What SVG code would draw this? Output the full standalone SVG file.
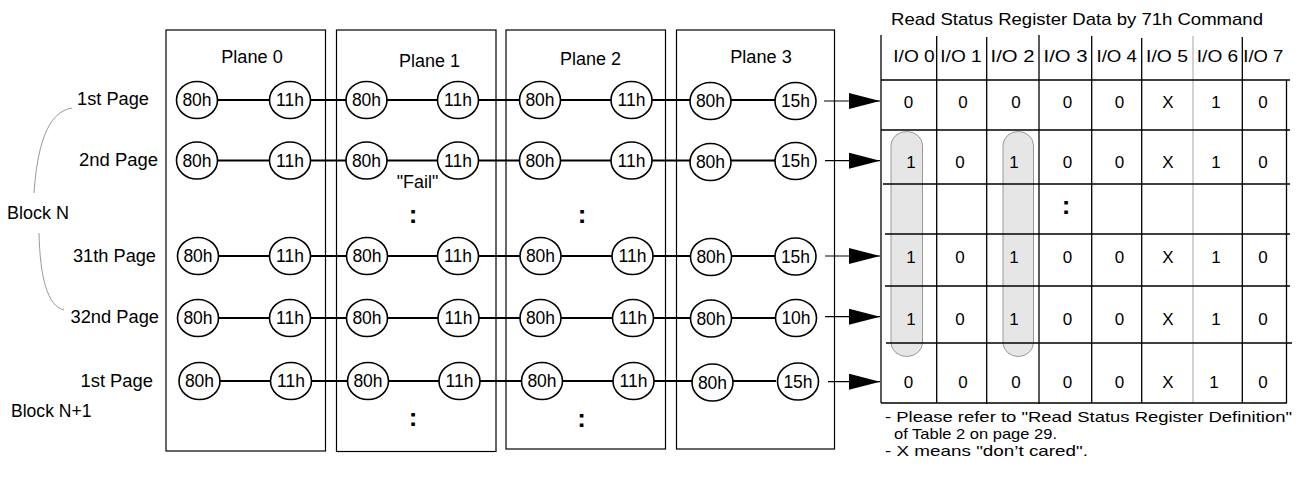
<svg xmlns="http://www.w3.org/2000/svg" width="1303" height="480" viewBox="0 0 1303 480">
<style>
.t{font-family:"Liberation Sans",Arial,Helvetica,sans-serif;font-size:17.5px;fill:#000}
.s{font-size:17px}
.n{font-size:15px}
.m{text-anchor:middle}
.e{text-anchor:end}
.colon{font-weight:bold;font-size:26px;text-anchor:middle}
.box{fill:none;stroke:#000;stroke-width:1.2}
.ov{fill:#fff;stroke:#000;stroke-width:1.6}
.wire{stroke:#000;stroke-width:2;fill:none}
.arr{stroke:#000;stroke-width:1.2;fill:none;marker-end:url(#ah)}
.grid{stroke:#000;stroke-width:1.3}
.gray{stroke:#bbb;stroke-width:1.3}
.pill{fill:#e6e6e6;stroke:#999;stroke-width:1}
.brace{fill:none;stroke:#999;stroke-width:1}
</style>
<defs>
<marker id="ah" markerUnits="userSpaceOnUse" markerWidth="31" markerHeight="16" refX="31" refY="8" orient="auto">
<path d="M0,0 L31,8 L0,16 Z" fill="#000"/>
</marker>
</defs>
<rect width="1303" height="480" fill="#fff"/>

<!-- left labels and brace -->
<g id="labels">
<path class="brace" d="M72,108 C46,112 37,150 34,193"/>
<path class="brace" d="M39,233 C40,276 47,306 64,310"/>
<text class="t e" x="149" y="105" textLength="72" lengthAdjust="spacingAndGlyphs">1st Page</text>
<text class="t e" x="158" y="166" textLength="79" lengthAdjust="spacingAndGlyphs">2nd Page</text>
<text class="t" x="7" y="219" textLength="62" lengthAdjust="spacingAndGlyphs">Block N</text>
<text class="t e" x="156" y="262" textLength="83" lengthAdjust="spacingAndGlyphs">31th Page</text>
<text class="t e" x="159" y="323" textLength="88.5" lengthAdjust="spacingAndGlyphs">32nd Page</text>
<text class="t e" x="153" y="387" textLength="72.5" lengthAdjust="spacingAndGlyphs">1st Page</text>
<text class="t" x="11" y="417" textLength="80.5" lengthAdjust="spacingAndGlyphs">Block N+1</text>
</g>

<!-- plane boxes -->
<g id="plane0-box"><rect class="box" x="166" y="30" width="159.5" height="421"/><text class="t m" x="252" y="63" textLength="61.5" lengthAdjust="spacingAndGlyphs">Plane 0</text></g>
<g id="plane1-box"><rect class="box" x="336.5" y="30" width="159.5" height="421.5"/><text class="t m" x="429.5" y="66.5" textLength="61" lengthAdjust="spacingAndGlyphs">Plane 1</text></g>
<g id="plane2-box"><rect class="box" x="506" y="30" width="159.5" height="419"/><text class="t m" x="590.5" y="65" textLength="61" lengthAdjust="spacingAndGlyphs">Plane 2</text></g>
<g id="plane3-box"><rect class="box" x="676.5" y="30" width="158" height="419"/><text class="t m" x="761" y="62.5" textLength="61.5" lengthAdjust="spacingAndGlyphs">Plane 3</text></g>

<!-- connectors -->
<g id="connectors">
<line class="wire" x1="217" y1="100" x2="776" y2="100"/>
<line class="wire" x1="217" y1="160.5" x2="776" y2="160.5"/>
<line class="wire" x1="217" y1="256" x2="776" y2="256"/>
<line class="wire" x1="217" y1="318" x2="776" y2="318"/>
<line class="wire" x1="217" y1="381" x2="776" y2="381"/>
<line class="arr" x1="824" y1="101" x2="880" y2="101"/>
<line class="arr" x1="825" y1="160.7" x2="880" y2="160.7"/>
<line class="arr" x1="825" y1="256" x2="880" y2="256"/>
<line class="arr" x1="825" y1="316.7" x2="880" y2="316.7"/>
<line class="arr" x1="828" y1="381.7" x2="880" y2="381.7"/>
</g>

<!-- plane 0 nodes -->
<g id="plane0">
<g id="p0-r1-80"><ellipse class="ov" cx="197" cy="100" rx="20.5" ry="18.5"/><text class="t m" x="197" y="106">80h</text></g>
<g id="p0-r1-11"><ellipse class="ov" cx="290" cy="100" rx="20.5" ry="18.5"/><text class="t m" x="290" y="106">11h</text></g>
<g id="p0-r2-80"><ellipse class="ov" cx="197" cy="160.5" rx="20.5" ry="18.5"/><text class="t m" x="197" y="166.5">80h</text></g>
<g id="p0-r2-11"><ellipse class="ov" cx="290" cy="160.5" rx="20.5" ry="18.5"/><text class="t m" x="290" y="166.5">11h</text></g>
<g id="p0-r3-80"><ellipse class="ov" cx="198" cy="256" rx="20.5" ry="18.5"/><text class="t m" x="198" y="262">80h</text></g>
<g id="p0-r3-11"><ellipse class="ov" cx="290" cy="256" rx="20.5" ry="18.5"/><text class="t m" x="290" y="262">11h</text></g>
<g id="p0-r4-80"><ellipse class="ov" cx="198" cy="318" rx="20.5" ry="18.5"/><text class="t m" x="198" y="324">80h</text></g>
<g id="p0-r4-11"><ellipse class="ov" cx="290" cy="318" rx="20.5" ry="18.5"/><text class="t m" x="290" y="324">11h</text></g>
<g id="p0-r5-80"><ellipse class="ov" cx="199.5" cy="381" rx="20.5" ry="18.5"/><text class="t m" x="199.5" y="387">80h</text></g>
<g id="p0-r5-11"><ellipse class="ov" cx="291" cy="381" rx="20.5" ry="18.5"/><text class="t m" x="291" y="387">11h</text></g>
</g>

<!-- plane 1 nodes -->
<g id="plane1">
<g id="p1-r1-80"><ellipse class="ov" cx="366.5" cy="100" rx="20.5" ry="18.5"/><text class="t m" x="366.5" y="106">80h</text></g>
<g id="p1-r1-11"><ellipse class="ov" cx="458" cy="100" rx="20.5" ry="18.5"/><text class="t m" x="458" y="106">11h</text></g>
<g id="p1-r2-80"><ellipse class="ov" cx="366.5" cy="160.5" rx="20.5" ry="18.5"/><text class="t m" x="366.5" y="166.5">80h</text></g>
<g id="p1-r2-11"><ellipse class="ov" cx="458" cy="160.5" rx="20.5" ry="18.5"/><text class="t m" x="458" y="166.5">11h</text></g>
<text class="t m" x="417.5" y="188" textLength="41.5" lengthAdjust="spacingAndGlyphs">"Fail"</text>
<text class="t colon" x="413" y="223">:</text>
<g id="p1-r3-80"><ellipse class="ov" cx="367" cy="256" rx="20.5" ry="18.5"/><text class="t m" x="367" y="262">80h</text></g>
<g id="p1-r3-11"><ellipse class="ov" cx="458" cy="256" rx="20.5" ry="18.5"/><text class="t m" x="458" y="262">11h</text></g>
<g id="p1-r4-80"><ellipse class="ov" cx="367" cy="318" rx="20.5" ry="18.5"/><text class="t m" x="367" y="324">80h</text></g>
<g id="p1-r4-11"><ellipse class="ov" cx="458.5" cy="318" rx="20.5" ry="18.5"/><text class="t m" x="458.5" y="324">11h</text></g>
<g id="p1-r5-80"><ellipse class="ov" cx="368" cy="381" rx="20.5" ry="18.5"/><text class="t m" x="368" y="387">80h</text></g>
<g id="p1-r5-11"><ellipse class="ov" cx="459.5" cy="381" rx="20.5" ry="18.5"/><text class="t m" x="459.5" y="387">11h</text></g>
<text class="t colon" x="413" y="426">:</text>
</g>

<!-- plane 2 nodes -->
<g id="plane2">
<g id="p2-r1-80"><ellipse class="ov" cx="540" cy="100" rx="20.5" ry="18.5"/><text class="t m" x="540" y="106">80h</text></g>
<g id="p2-r1-11"><ellipse class="ov" cx="631.5" cy="100" rx="20.5" ry="18.5"/><text class="t m" x="631.5" y="106">11h</text></g>
<g id="p2-r2-80"><ellipse class="ov" cx="540" cy="160.5" rx="20.5" ry="18.5"/><text class="t m" x="540" y="166.5">80h</text></g>
<g id="p2-r2-11"><ellipse class="ov" cx="631.5" cy="160.5" rx="20.5" ry="18.5"/><text class="t m" x="631.5" y="166.5">11h</text></g>
<text class="t colon" x="582" y="223">:</text>
<g id="p2-r3-80"><ellipse class="ov" cx="540.5" cy="256" rx="20.5" ry="18.5"/><text class="t m" x="540.5" y="262">80h</text></g>
<g id="p2-r3-11"><ellipse class="ov" cx="632.5" cy="256" rx="20.5" ry="18.5"/><text class="t m" x="632.5" y="262">11h</text></g>
<g id="p2-r4-80"><ellipse class="ov" cx="540.5" cy="318" rx="20.5" ry="18.5"/><text class="t m" x="540.5" y="324">80h</text></g>
<g id="p2-r4-11"><ellipse class="ov" cx="633" cy="318" rx="20.5" ry="18.5"/><text class="t m" x="633" y="324">11h</text></g>
<g id="p2-r5-80"><ellipse class="ov" cx="542" cy="381" rx="20.5" ry="18.5"/><text class="t m" x="542" y="387">80h</text></g>
<g id="p2-r5-11"><ellipse class="ov" cx="633.5" cy="381" rx="20.5" ry="18.5"/><text class="t m" x="633.5" y="387">11h</text></g>
<text class="t colon" x="581.5" y="427">:</text>
</g>

<!-- plane 3 nodes -->
<g id="plane3">
<g id="p3-r1-80"><ellipse class="ov" cx="710.5" cy="101" rx="20.5" ry="18.5"/><text class="t m" x="710.5" y="107">80h</text></g>
<g id="p3-r1-15"><ellipse class="ov" cx="795.5" cy="101" rx="20.5" ry="18.5"/><text class="t m" x="795.5" y="107">15h</text></g>
<g id="p3-r2-80"><ellipse class="ov" cx="710.5" cy="162" rx="20.5" ry="18.5"/><text class="t m" x="710.5" y="168">80h</text></g>
<g id="p3-r2-15"><ellipse class="ov" cx="795.5" cy="161" rx="20.5" ry="18.5"/><text class="t m" x="795.5" y="167">15h</text></g>
<g id="p3-r3-80"><ellipse class="ov" cx="711" cy="257" rx="20.5" ry="18.5"/><text class="t m" x="711" y="263">80h</text></g>
<g id="p3-r3-15"><ellipse class="ov" cx="795.5" cy="256.5" rx="20.5" ry="18.5"/><text class="t m" x="795.5" y="262.5">15h</text></g>
<g id="p3-r4-80"><ellipse class="ov" cx="711" cy="318.5" rx="20.5" ry="18.5"/><text class="t m" x="711" y="324.5">80h</text></g>
<g id="p3-r4-10"><ellipse class="ov" cx="796" cy="318" rx="20.5" ry="18.5"/><text class="t m" x="796" y="324">10h</text></g>
<g id="p3-r5-80"><ellipse class="ov" cx="712.5" cy="382.5" rx="20.5" ry="18.5"/><text class="t m" x="712.5" y="388.5">80h</text></g>
<g id="p3-r5-15"><ellipse class="ov" cx="798" cy="381.5" rx="20.5" ry="18.5"/><text class="t m" x="798" y="387.5">15h</text></g>
</g>

<!-- status register table -->
<g id="status-table">
<text class="t s" x="891" y="25" textLength="372" lengthAdjust="spacingAndGlyphs">Read Status Register Data by 71h Command</text>
<rect class="pill" x="891" y="131.5" width="31.5" height="225" rx="15.7" ry="14"/>
<rect class="pill" x="1003" y="131.5" width="30.5" height="225" rx="15.2" ry="14"/>
<line class="grid" x1="881" y1="35" x2="881" y2="403"/>
<line class="grid" x1="936.7" y1="36" x2="936.7" y2="403"/>
<line class="grid" x1="986.7" y1="37" x2="986.7" y2="404"/>
<line class="grid" x1="1039" y1="35" x2="1039" y2="404"/>
<line class="grid" x1="1091.7" y1="36" x2="1091.7" y2="403"/>
<line class="grid" x1="1141.7" y1="38" x2="1141.7" y2="403"/>
<line class="gray" x1="1193" y1="36" x2="1193" y2="403"/>
<line class="grid" x1="1242.3" y1="37" x2="1242.3" y2="403"/>
<line class="grid" x1="1286.5" y1="80" x2="1286.5" y2="403"/>
<line class="grid" x1="881" y1="80" x2="1290" y2="80"/>
<line class="grid" x1="881" y1="130" x2="1290" y2="130"/>
<line class="grid" x1="883" y1="184" x2="1290" y2="184"/>
<line class="grid" x1="885" y1="234" x2="1290" y2="234"/>
<line class="grid" x1="885" y1="286" x2="1290" y2="286"/>
<line class="grid" x1="886" y1="343" x2="1292" y2="343"/>
<line class="grid" x1="881" y1="403" x2="1287" y2="403"/>
<g class="t s m">
<text x="914" y="61.5" textLength="41.5" lengthAdjust="spacingAndGlyphs">I/O 0</text>
<text x="961" y="61.5" textLength="41.5" lengthAdjust="spacingAndGlyphs">I/O 1</text>
<text x="1012.5" y="61.5" textLength="44" lengthAdjust="spacingAndGlyphs">I/O 2</text>
<text x="1065.5" y="61.5" textLength="44" lengthAdjust="spacingAndGlyphs">I/O 3</text>
<text x="1116.7" y="61.5" textLength="40.5" lengthAdjust="spacingAndGlyphs">I/O 4</text>
<text x="1167" y="61.5" textLength="42" lengthAdjust="spacingAndGlyphs">I/O 5</text>
<text x="1217.5" y="61.5" textLength="41.5" lengthAdjust="spacingAndGlyphs">I/O 6</text>
<text x="1263.3" y="61.5" textLength="40" lengthAdjust="spacingAndGlyphs">I/O 7</text>

<text x="908.5" y="108">0</text><text x="963" y="108">0</text><text x="1016" y="108">0</text><text x="1067.5" y="108">0</text><text x="1119.5" y="108">0</text><text x="1168" y="108">X</text><text x="1216" y="108">1</text><text x="1263" y="108">0</text>
<text x="911" y="168">1</text><text x="960" y="168">0</text><text x="1014" y="168">1</text><text x="1067.5" y="168">0</text><text x="1119.5" y="168">0</text><text x="1168" y="168">X</text><text x="1216" y="168">1</text><text x="1263" y="168">0</text>
<text x="911" y="263">1</text><text x="960" y="263">0</text><text x="1014" y="263">1</text><text x="1067.5" y="263">0</text><text x="1119.5" y="263">0</text><text x="1168" y="263">X</text><text x="1216" y="263">1</text><text x="1263" y="263">0</text>
<text x="911" y="325">1</text><text x="960" y="325">0</text><text x="1014" y="325">1</text><text x="1067.5" y="325">0</text><text x="1119.5" y="325">0</text><text x="1168" y="325">X</text><text x="1216" y="325">1</text><text x="1263" y="325">0</text>
<text x="908.5" y="388">0</text><text x="963" y="388">0</text><text x="1016" y="388">0</text><text x="1067.5" y="388">0</text><text x="1119.5" y="388">0</text><text x="1168" y="388">X</text><text x="1214" y="388">1</text><text x="1263" y="388">0</text>
</g>
<text class="t colon" x="1066" y="214">:</text>
</g>

<!-- notes -->
<g id="notes" class="t n">
<text x="885" y="422" textLength="407" lengthAdjust="spacingAndGlyphs">- Please refer to "Read Status Register Definition"</text>
<text x="894" y="439" textLength="163" lengthAdjust="spacingAndGlyphs">of Table 2 on page 29.</text>
<text x="885" y="456" textLength="203" lengthAdjust="spacingAndGlyphs">- X means "don’t cared".</text>
</g>
</svg>
